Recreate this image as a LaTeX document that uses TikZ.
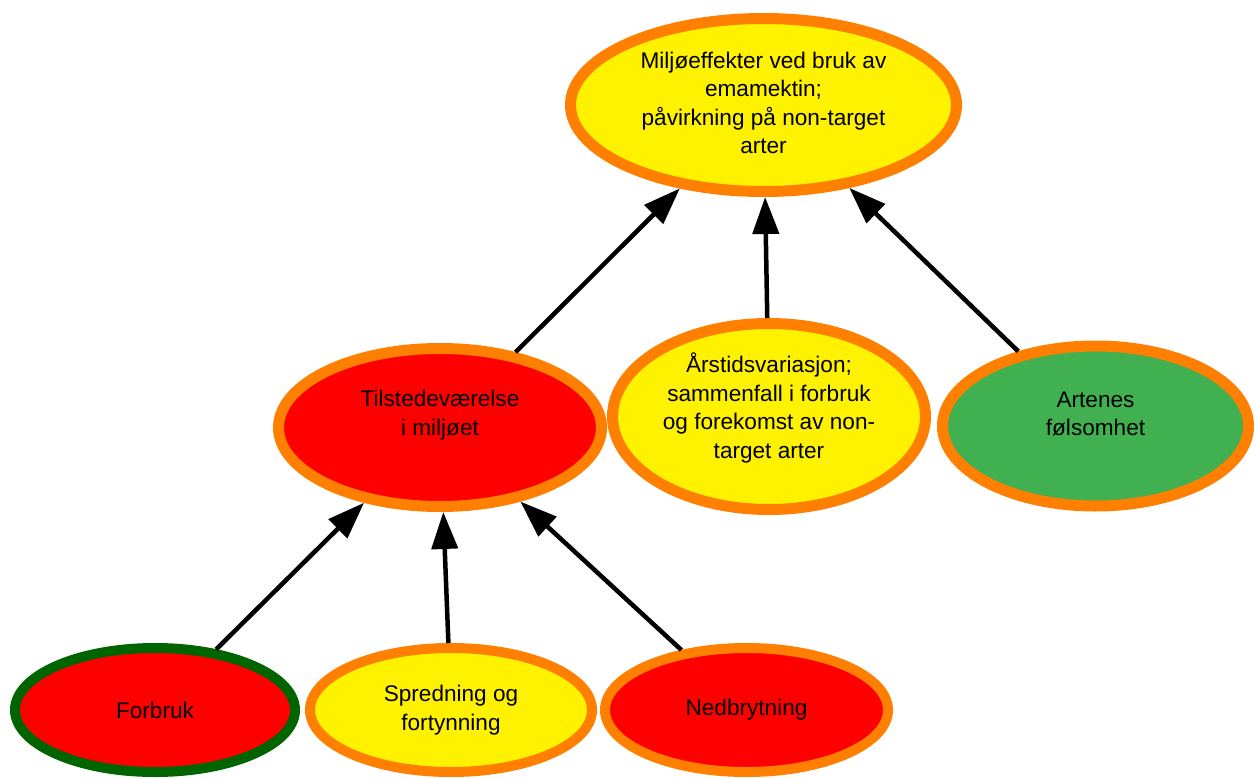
\documentclass[tikz,border=0pt]{standalone}
\usepackage{fontspec}
\setmainfont{Liberation Sans}
\usetikzlibrary{shapes.geometric,arrows.meta}
\definecolor{ora}{RGB}{255,128,0}
\definecolor{yel}{RGB}{255,242,0}
\definecolor{myred}{RGB}{255,0,0}
\definecolor{grn}{RGB}{64,176,80}
\definecolor{dgrn}{RGB}{0,100,0}
\begin{document}
\begin{tikzpicture}[x=1pt,y=-1pt,
  ell/.style={ellipse, draw=ora, line width=11pt, inner sep=0pt},
  lbl/.style={align=center, font=\fontsize{22.6}{28.5}\selectfont, inner sep=0pt, text=black},
  arr/.style={-{Triangle[length=37pt,width=26pt]}, line width=4.5pt, draw=black}]
\useasboundingbox (0,0) rectangle (1256,779);
% ellipses
\node[ell, fill=yel, minimum width=386pt, minimum height=173pt] (top) at (763.5,105) {};
\node[ell, fill=myred, minimum width=323pt, minimum height=158pt] (til) at (440,427.5) {};
\node[ell, fill=yel, minimum width=313pt, minimum height=186pt] (ars) at (769,416.5) {};
\node[ell, fill=grn, minimum width=306pt, minimum height=160pt] (art) at (1095.5,426) {};
\node[ell, draw=dgrn, fill=myred, line width=10pt, minimum width=280pt, minimum height=124pt] (for) at (155,710) {};
\node[ell, fill=yel, line width=10pt, minimum width=282pt, minimum height=124pt] (spr) at (451,710) {};
\node[ell, fill=myred, line width=10pt, minimum width=283pt, minimum height=124pt] (ned) at (746.5,710) {};
% texts
\node[lbl] (ttop) at (763.5,103) {Miljøeffekter ved bruk av\\emamektin;\\påvirkning på non-target\\arter};
\node[lbl] (ttil) at (440,415) {Tilstedeværelse\\i miljøet};
\node[lbl] (tars) at (769,408) {Årstidsvariasjon;\\sammenfall i forbruk\\og forekomst av non-\\target arter};
\node[lbl] (tart) at (1095.5,414) {Artenes\\følsomhet};
\node[lbl] (tfor) at (155,710) {Forbruk};
\node[lbl] (tspr) at (451,710) {Spredning og\\fortynning};
\node[lbl] (tned) at (746.5,710) {Nedbrytning};
% connectors
\draw[arr] (til) -- (top);
\draw[arr] (ars) -- (top);
\draw[arr] (art) -- (top);
\draw[arr] (for) -- (til);
\draw[arr] (spr) -- (til);
\draw[arr] (ned) -- (til);
\end{tikzpicture}
\end{document}
